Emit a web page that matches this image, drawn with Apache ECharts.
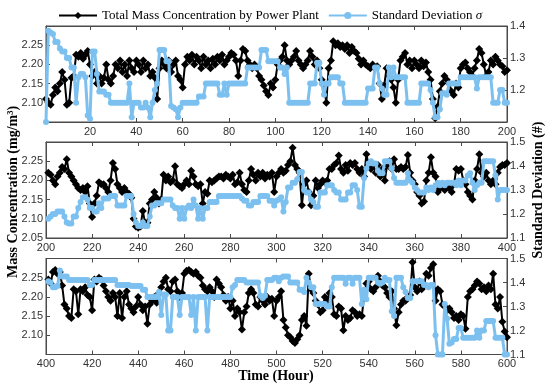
<!DOCTYPE html>
<html><head><meta charset="utf-8">
<script src="https://cdn.jsdelivr.net/npm/echarts@6/dist/echarts.min.js"></script>
<style>html,body{margin:0;padding:0;background:#fff}#c{width:550px;height:389px}</style>
</head><body><div id="c"></div>
<script>
// Panel 1: hours 1-200
const massP1 = [
2.11,2.10,2.095,2.12,2.14,2.13,2.15,2.18,2.16,2.095,
2.10,2.165,2.17,2.225,2.22,2.23,2.215,2.225,2.235,2.20,
2.17,2.18,2.15,2.17,2.15,2.165,2.20,2.16,2.15,2.17,
2.20,2.19,2.21,2.18,2.20,2.17,2.21,2.19,2.18,2.21,
2.20,2.18,2.21,2.19,2.20,2.17,2.18,2.165,2.11,2.19,
2.21,2.20,2.19,2.21,2.18,2.20,2.21,2.17,2.16,2.14,
2.20,2.22,2.21,2.225,2.20,2.22,2.21,2.19,2.22,2.20,
2.21,2.19,2.215,2.20,2.22,2.21,2.225,2.20,2.21,2.22,
2.23,2.225,2.21,2.17,2.21,2.24,2.235,2.21,2.20,2.19,
2.20,2.19,2.17,2.16,2.145,2.13,2.12,2.15,2.14,2.16,
2.20,2.21,2.22,2.25,2.21,2.20,2.21,2.22,2.235,2.21,
2.20,2.19,2.20,2.21,2.235,2.22,2.20,2.21,2.19,2.16,
2.145,2.10,2.19,2.21,2.26,2.25,2.255,2.245,2.25,2.24,
2.25,2.23,2.245,2.235,2.23,2.215,2.20,2.21,2.20,2.195,
2.19,2.20,2.19,2.195,2.15,2.11,2.145,2.19,2.17,2.16,
2.14,2.10,2.16,2.21,2.22,2.23,2.20,2.21,2.19,2.21,
2.20,2.19,2.21,2.195,2.205,2.18,2.16,2.11,2.06,2.09,
2.13,2.15,2.17,2.16,2.15,2.13,2.12,2.15,2.14,2.19,
2.20,2.205,2.19,2.18,2.17,2.19,2.21,2.24,2.23,2.20,
2.17,2.18,2.21,2.20,2.22,2.21,2.20,2.195,2.18,2.185];
const sdP1 = [
1.10,1.385,1.38,1.375,1.35,1.35,1.33,1.32,1.32,1.30,
1.30,1.27,1.27,1.16,1.24,1.25,1.25,1.24,1.12,1.11,
1.32,1.32,1.25,1.195,1.195,1.195,1.185,1.185,1.16,1.16,
1.16,1.16,1.16,1.16,1.16,1.16,1.22,1.115,1.16,1.16,
1.16,1.145,1.145,1.16,1.145,1.115,1.16,1.20,1.22,1.325,
1.325,1.325,1.29,1.29,1.15,1.145,1.14,1.115,1.145,1.16,
1.16,1.16,1.16,1.16,1.16,1.16,1.18,1.18,1.18,1.22,
1.22,1.22,1.22,1.22,1.22,1.185,1.185,1.22,1.185,1.22,
1.22,1.22,1.22,1.22,1.22,1.22,1.22,1.27,1.27,1.27,
1.27,1.27,1.27,1.325,1.325,1.325,1.29,1.29,1.29,1.29,
1.29,1.27,1.27,1.25,1.27,1.16,1.16,1.16,1.16,1.16,
1.16,1.16,1.16,1.16,1.22,1.22,1.22,1.285,1.285,1.22,
1.185,1.22,1.22,1.24,1.24,1.24,1.24,1.22,1.22,1.16,
1.16,1.16,1.16,1.16,1.16,1.16,1.16,1.16,1.16,1.205,
1.205,1.205,1.27,1.27,1.22,1.205,1.185,1.185,1.27,1.24,
1.27,1.24,1.24,1.24,1.24,1.24,1.16,1.16,1.16,1.16,
1.16,1.16,1.22,1.22,1.22,1.22,1.20,1.16,1.115,1.115,
1.14,1.19,1.19,1.185,1.22,1.22,1.22,1.22,1.22,1.24,
1.24,1.24,1.24,1.24,1.24,1.24,1.205,1.24,1.24,1.24,
1.24,1.24,1.24,1.16,1.16,1.16,1.20,1.20,1.16,1.16];
// Panel 2: hours 201-400
const massP2 = [
2.22,2.215,2.20,2.19,2.21,2.22,2.235,2.23,2.255,2.22,
2.21,2.20,2.19,2.18,2.175,2.18,2.17,2.185,2.14,2.105,
2.14,2.16,2.195,2.19,2.19,2.18,2.17,2.20,2.245,2.23,
2.19,2.18,2.17,2.18,2.17,2.165,2.155,2.10,2.08,2.077,
2.08,2.12,2.09,2.09,2.14,2.15,2.17,2.155,2.14,2.15,
2.215,2.20,2.21,2.195,2.20,2.237,2.19,2.185,2.18,2.19,
2.20,2.19,2.225,2.21,2.19,2.185,2.19,2.14,2.17,2.165,
2.20,2.195,2.20,2.205,2.21,2.21,2.205,2.215,2.21,2.205,
2.215,2.19,2.195,2.22,2.19,2.175,2.17,2.20,2.23,2.215,
2.20,2.22,2.21,2.22,2.205,2.215,2.21,2.22,2.17,2.21,
2.22,2.23,2.22,2.225,2.24,2.25,2.285,2.24,2.23,2.22,
2.135,2.19,2.20,2.17,2.135,2.16,2.20,2.18,2.19,2.20,
2.195,2.20,2.23,2.23,2.24,2.245,2.265,2.23,2.22,2.24,
2.225,2.245,2.24,2.245,2.23,2.22,2.23,2.21,2.268,2.24,
2.23,2.24,2.22,2.24,2.21,2.23,2.20,2.24,2.25,2.23,
2.255,2.23,2.23,2.235,2.23,2.235,2.266,2.22,2.20,2.19,
2.17,2.16,2.14,2.145,2.20,2.22,2.26,2.22,2.21,2.17,
2.18,2.19,2.175,2.19,2.18,2.17,2.19,2.23,2.225,2.23,
2.20,2.19,2.17,2.16,2.15,2.20,2.23,2.268,2.22,2.21,
2.22,2.20,2.19,2.20,2.19,2.22,2.235,2.24,2.24,2.245];
const sdP2 = [
1.18,1.19,1.20,1.20,1.21,1.21,1.21,1.19,1.165,1.16,
1.16,1.19,1.19,1.225,1.25,1.27,1.27,1.26,1.225,1.225,
1.21,1.21,1.245,1.225,1.265,1.265,1.265,1.275,1.275,1.275,
1.235,1.235,1.235,1.235,1.275,1.275,1.275,1.20,1.165,1.15,
1.15,1.165,1.15,1.15,1.19,1.235,1.235,1.245,1.245,1.245,
1.26,1.26,1.26,1.26,1.235,1.225,1.225,1.18,1.225,1.18,
1.225,1.235,1.225,1.26,1.235,1.18,1.225,1.18,1.225,1.225,
1.25,1.25,1.25,1.25,1.275,1.275,1.275,1.275,1.275,1.275,
1.275,1.275,1.275,1.275,1.265,1.255,1.255,1.235,1.235,1.25,
1.25,1.25,1.275,1.275,1.275,1.275,1.255,1.255,1.235,1.255,
1.26,1.27,1.21,1.25,1.31,1.31,1.33,1.33,1.345,1.375,
1.375,1.30,1.29,1.29,1.26,1.25,1.23,1.23,1.29,1.29,
1.29,1.32,1.32,1.32,1.30,1.29,1.29,1.26,1.26,1.26,
1.29,1.29,1.32,1.32,1.30,1.23,1.23,1.35,1.39,1.41,
1.42,1.41,1.41,1.38,1.37,1.37,1.42,1.42,1.42,1.39,
1.35,1.33,1.33,1.33,1.33,1.33,1.37,1.34,1.33,1.31,
1.30,1.29,1.29,1.29,1.31,1.30,1.31,1.30,1.32,1.33,
1.32,1.33,1.32,1.33,1.33,1.33,1.33,1.32,1.34,1.32,
1.34,1.34,1.36,1.37,1.33,1.30,1.32,1.33,1.33,1.42,
1.42,1.42,1.42,1.42,1.36,1.26,1.30,1.30,1.30,1.30];
// Panel 3: hours 401-600
const massP3 = [
2.245,2.235,2.265,2.27,2.26,2.265,2.23,2.18,2.17,2.15,
2.145,2.22,2.215,2.155,2.22,2.215,2.225,2.205,2.20,2.165,
2.245,2.24,2.25,2.245,2.23,2.215,2.20,2.19,2.21,2.20,
2.15,2.21,2.145,2.20,2.215,2.18,2.17,2.16,2.175,2.20,
2.18,2.165,2.175,2.13,2.18,2.19,2.20,2.185,2.21,2.225,
2.24,2.25,2.22,2.215,2.24,2.245,2.215,2.20,2.21,2.26,
2.268,2.27,2.265,2.26,2.265,2.255,2.25,2.23,2.22,2.215,
2.225,2.215,2.20,2.245,2.235,2.225,2.205,2.19,2.20,2.17,
2.19,2.15,2.17,2.16,2.115,2.16,2.175,2.21,2.22,2.21,
2.18,2.175,2.20,2.19,2.18,2.20,2.19,2.195,2.15,2.19,
2.20,2.215,2.14,2.12,2.10,2.095,2.085,2.08,2.09,2.10,
2.14,2.15,2.125,2.26,2.22,2.21,2.19,2.18,2.16,2.165,
2.20,2.19,2.21,2.20,2.155,2.15,2.175,2.17,2.113,2.15,
2.14,2.145,2.165,2.16,2.15,2.155,2.15,2.20,2.235,2.24,
2.22,2.215,2.225,2.255,2.24,2.23,2.225,2.21,2.20,2.215,
2.17,2.126,2.16,2.18,2.19,2.19,2.20,2.205,2.29,2.225,
2.215,2.24,2.22,2.23,2.26,2.255,2.275,2.285,2.19,2.22,
2.215,2.18,2.175,2.165,2.17,2.16,2.145,2.15,2.14,2.155,
2.15,2.117,2.20,2.215,2.22,2.23,2.24,2.235,2.22,2.225,
2.215,2.23,2.22,2.26,2.18,2.17,2.20,2.135,2.11,2.095];
const sdP3 = [
1.405,1.40,1.38,1.38,1.385,1.45,1.425,1.425,1.425,1.41,
1.41,1.41,1.41,1.41,1.41,1.41,1.41,1.41,1.39,1.39,
1.41,1.41,1.41,1.41,1.41,1.41,1.41,1.41,1.41,1.41,
1.39,1.39,1.39,1.39,1.39,1.39,1.385,1.385,1.385,1.385,
1.385,1.37,1.37,1.34,1.34,1.34,1.34,1.34,1.36,1.265,
1.35,1.35,1.20,1.20,1.34,1.34,1.34,1.265,1.34,1.34,
1.34,1.34,1.265,1.34,1.20,1.34,1.34,1.34,1.34,1.20,
1.34,1.34,1.34,1.34,1.34,1.34,1.34,1.34,1.34,1.34,
1.38,1.39,1.41,1.41,1.41,1.41,1.40,1.40,1.40,1.40,
1.40,1.40,1.345,1.335,1.345,1.41,1.41,1.41,1.42,1.42,
1.405,1.42,1.425,1.425,1.425,1.40,1.40,1.40,1.40,1.37,
1.37,1.36,1.42,1.40,1.38,1.38,1.31,1.31,1.31,1.31,
1.31,1.30,1.30,1.38,1.42,1.42,1.42,1.42,1.42,1.395,
1.42,1.42,1.395,1.42,1.42,1.42,1.31,1.37,1.33,1.42,
1.42,1.42,1.42,1.40,1.395,1.40,1.42,1.41,1.41,1.28,
1.26,1.42,1.42,1.42,1.38,1.36,1.335,1.335,1.405,1.405,
1.405,1.405,1.405,1.39,1.39,1.38,1.39,1.39,1.18,1.10,
1.10,1.10,1.31,1.25,1.145,1.15,1.165,1.165,1.21,1.21,
1.17,1.17,1.17,1.17,1.17,1.17,1.20,1.17,1.20,1.20,
1.24,1.24,1.24,1.24,1.17,1.17,1.17,1.17,1.10,1.10];

const startHours = [1, 201, 401];
const xRanges = [[1, 200], [200, 400], [400, 600]];
const xTicks = [
  [20,40,60,80,100,120,140,160,180,200],
  [200,220,240,260,280,300,320,340,360,380,400],
  [400,420,440,460,480,500,520,540,560,580,600]];
const leftRange = [2.05, 2.30];
const leftTicks = [[2.10,2.15,2.20,2.25],[2.05,2.10,2.15,2.20,2.25],[2.10,2.15,2.20,2.25]];
const rightRanges = [[1.1, 1.4], [1.1, 1.5], [1.1, 1.5]];
const rightTicks = [[1.2,1.3,1.4],[1.1,1.2,1.3,1.4,1.5],[1.1,1.2,1.3,1.4,1.5]];
const massName = 'Total Mass Concentration by Power Plant';
const sdName = 'Standard Deviation σ';

const massAll = [massP1, massP2, massP3];
const sdAll = [sdP1, sdP2, sdP3];

const gridTops = [26, 142, 258.5];
const gridH = 96;
const axisColor = '#4a4a4a';
const labelFont = {fontFamily: 'Liberation Sans', fontSize: 11, color: '#333'};

const grids = [], xAxes = [], yAxes = [], series = [];
for (let k = 0; k < 3; k++) {
  grids.push({left: 46, width: 461, top: gridTops[k], height: gridH, show: true,
    borderColor: axisColor, borderWidth: 1, backgroundColor: 'transparent'});
}
for (let k = 0; k < 3; k++) {
  xAxes.push({type: 'value', gridIndex: k, position: 'bottom', min: xRanges[k][0], max: xRanges[k][1],
    splitLine: {show: false},
    axisLine: {show: true, onZero: false, lineStyle: {color: axisColor}},
    axisTick: {show: true, inside: true, length: 4, customValues: xTicks[k], lineStyle: {color: axisColor}},
    axisLabel: Object.assign({margin: 4, customValues: xTicks[k], formatter: v => String(Math.round(v))}, labelFont)});
}
for (let k = 0; k < 3; k++) {
  xAxes.push({type: 'value', gridIndex: k, position: 'top', min: xRanges[k][0], max: xRanges[k][1],
    splitLine: {show: false},
    axisLine: {show: true, onZero: false, lineStyle: {color: axisColor}},
    axisTick: {show: true, inside: true, length: 4, customValues: xTicks[k], lineStyle: {color: axisColor}},
    axisLabel: {show: false}});
}
for (let k = 0; k < 3; k++) {
  yAxes.push({type: 'value', gridIndex: k, position: 'left', min: leftRange[0], max: leftRange[1],
    splitLine: {show: false},
    axisLine: {show: true, onZero: false, lineStyle: {color: axisColor}},
    axisTick: {show: true, inside: true, length: 4, customValues: leftTicks[k], lineStyle: {color: axisColor}},
    axisLabel: Object.assign({margin: 3, customValues: leftTicks[k], formatter: v => v.toFixed(2)}, labelFont)});
  yAxes.push({type: 'value', gridIndex: k, position: 'right', min: rightRanges[k][0], max: rightRanges[k][1],
    splitLine: {show: false},
    axisLine: {show: true, onZero: false, lineStyle: {color: axisColor}},
    axisTick: {show: true, inside: true, length: 4, customValues: rightTicks[k], lineStyle: {color: axisColor}},
    axisLabel: Object.assign({margin: 3, customValues: rightTicks[k], formatter: v => v.toFixed(1)}, labelFont)});
}
for (let k = 0; k < 3; k++) {
  const s = startHours[k];
  series.push({name: massName, type: 'line', xAxisIndex: k, yAxisIndex: 2 * k,
    data: massAll[k].map((v, i) => [s + i, v]),
    symbol: 'diamond', symbolSize: 8, showAllSymbol: true,
    lineStyle: {color: '#000', width: 2}, itemStyle: {color: '#000'}, z: 2});
  series.push({name: sdName, type: 'line', xAxisIndex: k, yAxisIndex: 2 * k + 1,
    data: sdAll[k].map((v, i) => [s + i, v]),
    symbol: 'circle', symbolSize: 6, showAllSymbol: true,
    lineStyle: {color: '#7cc0f0', width: 3}, itemStyle: {color: '#7cc0f0'}, z: 3});
}

const chart = echarts.init(document.getElementById('c'), null, {renderer: 'canvas'});
chart.setOption({
  animation: false,
  backgroundColor: '#fff',
  legend: {left: 53, top: 4, itemWidth: 38, itemHeight: 9, itemGap: 9,
    data: [massName, sdName],
    textStyle: {fontFamily: 'Liberation Serif', fontSize: 13, color: '#000',
      rich: {i: {fontFamily: 'Liberation Serif', fontSize: 13, fontStyle: 'italic', color: '#000'}}},
    formatter: n => n === sdName ? 'Standard Deviation {i|σ}' : n},
  grid: grids, xAxis: xAxes, yAxis: yAxes, series: series,
  graphic: [
    {type: 'text', x: 13, y: 192, rotation: Math.PI / 2,
      style: {text: 'Mass Concentration (mg/m³)', fontFamily: 'Liberation Serif', fontSize: 14, fontWeight: 'bold', fill: '#000', align: 'center', verticalAlign: 'middle'}},
    {type: 'text', x: 538, y: 190, rotation: Math.PI / 2,
      style: {text: 'Standard Deviation (#)', fontFamily: 'Liberation Serif', fontSize: 14, fontWeight: 'bold', fill: '#000', align: 'center', verticalAlign: 'middle'}},
    {type: 'text', x: 276, y: 376,
      style: {text: 'Time (Hour)', fontFamily: 'Liberation Serif', fontSize: 14, fontWeight: 'bold', fill: '#000', align: 'center', verticalAlign: 'middle'}}
  ]
});
</script></body></html>
